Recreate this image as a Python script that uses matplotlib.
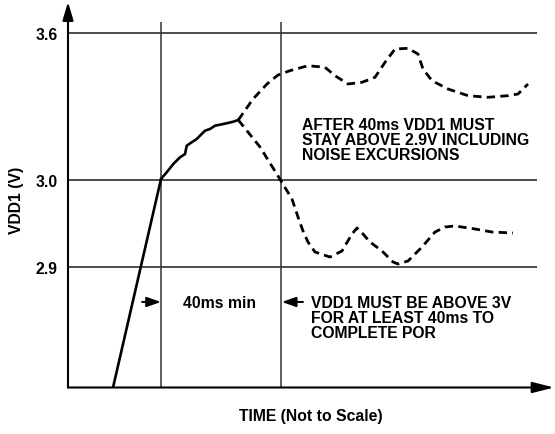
import matplotlib
matplotlib.use('Agg')
import matplotlib.pyplot as plt

# ---- data (schematic units: time 0..100, level 0..100) ----
ytick_pos = [97.1, 56.7, 32.9]
ytick_labels = ['3.6', '3.0', '2.9']
vline_x = [19.8, 45.4]

rise_x = [9.6, 19.83]
rise_y = [0.0, 57.05]

solid_x = [19.83, 21.04, 22.45, 23.88, 24.95, 25.31, 26.38, 27.44, 28.14, 29.21,
           30.28, 31.34, 33.11, 35.25, 36.31]
solid_y = [57.05, 58.88, 61.15, 62.98, 63.88, 66.16, 67.09, 67.99, 68.89, 70.26,
           70.73, 71.63, 72.09, 72.72, 73.19]

upper_x = [36.31, 39.45, 42.43, 44.78, 47.33, 51.17, 54.80, 56.93, 59.70, 62.69,
           65.46, 67.59, 69.72, 72.49, 74.63, 75.69, 77.61, 81.02, 85.29, 89.55,
           93.82, 95.95, 98.08]
upper_y = [73.19, 78.93, 83.04, 85.50, 86.68, 88.04, 87.61, 85.31, 83.04, 83.50,
           84.87, 88.97, 92.61, 92.80, 91.24, 87.14, 83.94, 81.67, 79.84, 79.40,
           79.84, 80.30, 83.04]

lower_x = [36.31, 40.94, 44.78, 45.42, 47.76, 49.04, 50.11, 51.17, 52.67, 55.86,
           58.42, 60.55, 61.62, 62.90, 64.39, 66.95, 69.30, 70.36, 72.49, 75.48,
           78.25, 80.38, 82.52, 86.78, 90.41, 94.88]
lower_y = [73.19, 65.80, 57.87, 56.50, 51.57, 46.65, 42.82, 39.81, 37.07, 35.70,
           37.35, 42.00, 43.64, 42.00, 39.81, 37.35, 34.34, 33.79, 34.61, 38.44,
           42.54, 43.91, 44.19, 43.37, 42.54, 42.27]

note_upper = "AFTER 40ms VDD1 MUST\nSTAY ABOVE 2.9V INCLUDING\nNOISE EXCURSIONS"
note_lower = "VDD1 MUST BE ABOVE 3V\nFOR AT LEAST 40ms TO\nCOMPLETE POR"
note_min = "40ms min"
xlabel = "TIME (Not to Scale)"
ylabel = "VDD1 (V)"

FONT = 'Liberation Sans'
FS = 11.3

W, H = 555, 435
fig = plt.figure(figsize=(W / 100, H / 100), dpi=100)
ax = fig.add_axes([68 / W, (H - 388.5) / H, (537 - 68) / W, (388.5 - 23) / H])
ax.set_xlim(0, 100)
ax.set_ylim(0, 100)
for s in ax.spines.values():
    s.set_visible(False)
ax.set_xticks([])
ax.set_yticks(ytick_pos, ytick_labels)
ax.tick_params(axis='y', length=0, pad=7.5)
for lab in ax.get_yticklabels():
    lab.set_fontfamily(FONT)
    lab.set_fontweight('bold')
    lab.set_fontsize(FS)

# grid lines
for y in ytick_pos:
    ax.axhline(y, color='#1a1a1a', lw=1.1, zorder=1)
for x in vline_x:
    ax.axvline(x, color='#333333', lw=1.1, zorder=1)

# axes with arrows
ax.annotate('', xy=((554 - 68) / 469, 0), xytext=(0, 0), xycoords='axes fraction',
            textcoords='axes fraction',
            arrowprops=dict(arrowstyle='-|>,head_length=1.3,head_width=0.33',
                            mutation_scale=10, lw=1.5, color='black',
                            shrinkA=0, shrinkB=0), annotation_clip=False)
ax.annotate('', xy=(0, (388.5 - 3) / 365.5), xytext=(0, 0), xycoords='axes fraction',
            textcoords='axes fraction',
            arrowprops=dict(arrowstyle='-|>,head_length=1.1,head_width=0.33',
                            mutation_scale=10, lw=1.5, color='black',
                            shrinkA=0, shrinkB=0), annotation_clip=False)

# curves
ax.plot(rise_x, rise_y, color='black', lw=1.9, zorder=3, solid_capstyle='butt')
ax.plot(solid_x, solid_y, color='black', lw=1.9, zorder=3)
ax.plot(upper_x, upper_y, color='black', lw=2.0, zorder=3, linestyle=(0, (3.0, 1.9)))
ax.plot(lower_x, lower_y, color='black', lw=2.0, zorder=3, linestyle=(0, (3.0, 1.9)))

# small arrows
arr_y = 23.4
ax.annotate('', xy=(19.8, arr_y), xytext=(15.8, arr_y),
            arrowprops=dict(arrowstyle='-|>,head_length=0.85,head_width=0.3',
                            mutation_scale=10, lw=1.4, color='black',
                            shrinkA=0, shrinkB=0))
ax.annotate('', xy=(45.6, arr_y), xytext=(50.1, arr_y),
            arrowprops=dict(arrowstyle='-|>,head_length=0.85,head_width=0.3',
                            mutation_scale=10, lw=1.4, color='black',
                            shrinkA=0, shrinkB=0))

tkw = dict(fontfamily=FONT, fontweight='bold', fontsize=FS, color='black')
ax.text(49.9, (388.5 - 118) / 3.655, note_upper, ha='left', va='top',
        linespacing=1.0, **tkw)
ax.text(51.8, (388.5 - 295.5) / 3.655, note_lower, ha='left', va='top',
        linespacing=1.03, **tkw)
ax.text(24.5, (388.5 - 295.5) / 3.655, note_min, ha='left', va='top', **tkw)

fig.text(311 / W, 1 - 417 / H, xlabel, ha='center', va='center', **tkw)
fig.text(17 / W, 1 - 200 / H, ylabel, ha='center', va='center', rotation=90, **tkw)

fig.savefig('out.png', dpi=100)
